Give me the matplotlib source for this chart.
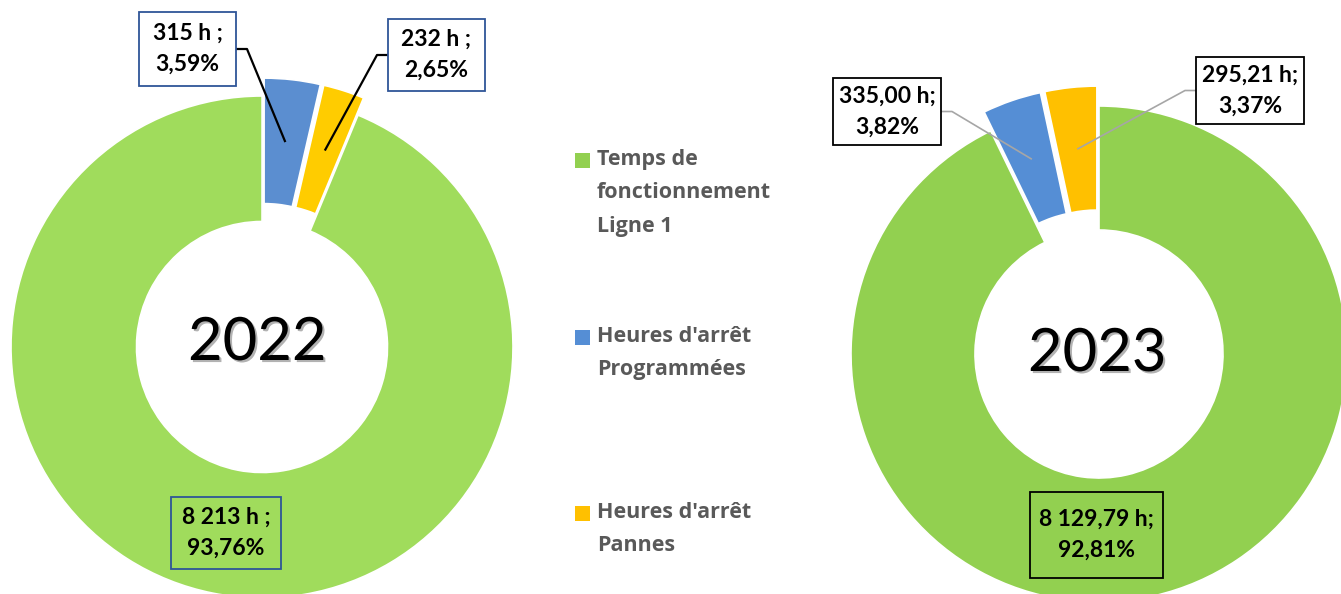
import numpy as np
import matplotlib
matplotlib.use('Agg')
import matplotlib.pyplot as plt
import matplotlib.patheffects as pe
from matplotlib.patches import Rectangle

# ---- data -------------------------------------------------------------
categories = ["Temps de\nfonctionnement\nLigne 1",
              "Heures d'arrêt\nProgrammées",
              "Heures d'arrêt\nPannes"]
years = ["2022", "2023"]
hours_2022 = [8213, 315, 232]
hours_2023 = [8129.79, 335.00, 295.21]
labels_2022 = ["8 213 h ;\n93,76%", "315 h ;\n3,59%", "232 h ;\n2,65%"]
labels_2023 = ["8 129,79 h;\n92,81%", "335,00 h;\n3,82%", "295,21 h;\n3,37%"]

colors_2022 = ['#A0DC5C', '#5B8ED0', '#FFCC00']
colors_2023 = ['#92D050', '#558ED5', '#FFC000']

# ---- layout (pixels, y measured from top) ------------------------------
W, H = 1341, 594
plt.rcParams['font.family'] = ['Lato', 'DejaVu Sans']

fig = plt.figure(figsize=(W / 100, H / 100), dpi=100)
ax = fig.add_axes([0, 0, 1, 1])


def draw_donut(vals, labels, colors, center, radius, start, expl,
               boxes, box_edge, leader_color, leader_lw, year_pos):
   cx, cy = center
   wedges, _ = ax.pie(vals, colors=colors, startangle=start, counterclock=False,
                      radius=radius, center=(cx, H - cy),
                      explode=[0, expl, expl],
                      wedgeprops=dict(width=radius * 0.5, edgecolor='white', linewidth=1.2))
   for w, lab, (bx, by, bw, bh, side) in zip(wedges, labels, boxes):
      face = 'none' if side == 0 else 'white'
      ax.add_patch(Rectangle((bx - bw / 2, H - by - bh / 2), bw, bh, facecolor=face,
                             edgecolor=box_edge, lw=1.3, zorder=5))
      ax.text(bx, H - by, lab, ha='center', va='center', fontsize=16.5,
              fontweight='bold', linespacing=1.6, zorder=6)
      if side == 0:
         continue
      # leader line from box edge to middle of the wedge
      tm = np.deg2rad((w.theta1 + w.theta2) / 2)
      wx, wy = w.center
      px = wx + 0.75 * radius * np.cos(tm)
      py = wy + 0.75 * radius * np.sin(tm)
      ex = bx + side * bw / 2
      ax.plot([ex, ex + side * 11, px], [H - by, H - by, py],
              color=leader_color, lw=leader_lw, zorder=4, solid_capstyle='butt')
   ax.text(year_pos[0], H - year_pos[1], year_pos[2], ha='center', va='center',
           fontsize=43, color='black', zorder=6,
           path_effects=[pe.withSimplePatchShadow(offset=(1.5, -1.5),
                                                  shadow_rgbFace='black', alpha=0.3)])


# 2022 donut
draw_donut(hours_2022, labels_2022, colors_2022, (262, 347), 251, 67.5, 18,
           [(226, 533, 110, 72, 0), (187.5, 49, 97, 74, 1), (436.5, 55, 97, 72, -1)],
           '#2F5597', 'black', 1.6, (257, 343, years[0]))

# 2023 donut
draw_donut(hours_2023, labels_2023, colors_2023, (1099, 354), 248, 90, 20,
           [(1096.5, 535, 133, 86, 0), (887, 111.5, 108, 67, 1), (1250, 90.5, 108, 67, -1)],
           'black', '#A6A6A6', 1.2, (1097, 354, years[1]))

# legend
legend_y = [160, 337, 513]
for cat, col, ly in zip(categories, colors_2023, legend_y):
   ax.add_patch(Rectangle((575, H - ly - 7.5), 15, 15, facecolor=col, edgecolor='none'))
   ax.text(597, H - ly + 11, cat, ha='left', va='top', fontsize=15.5,
           fontweight='bold', color='#595959', linespacing=1.78,
           family=['Open Sans', 'DejaVu Sans'])

ax.set_xlim(0, W)
ax.set_ylim(0, H)
ax.set_aspect('equal')
ax.axis('off')

plt.savefig('out.png', dpi=100)
